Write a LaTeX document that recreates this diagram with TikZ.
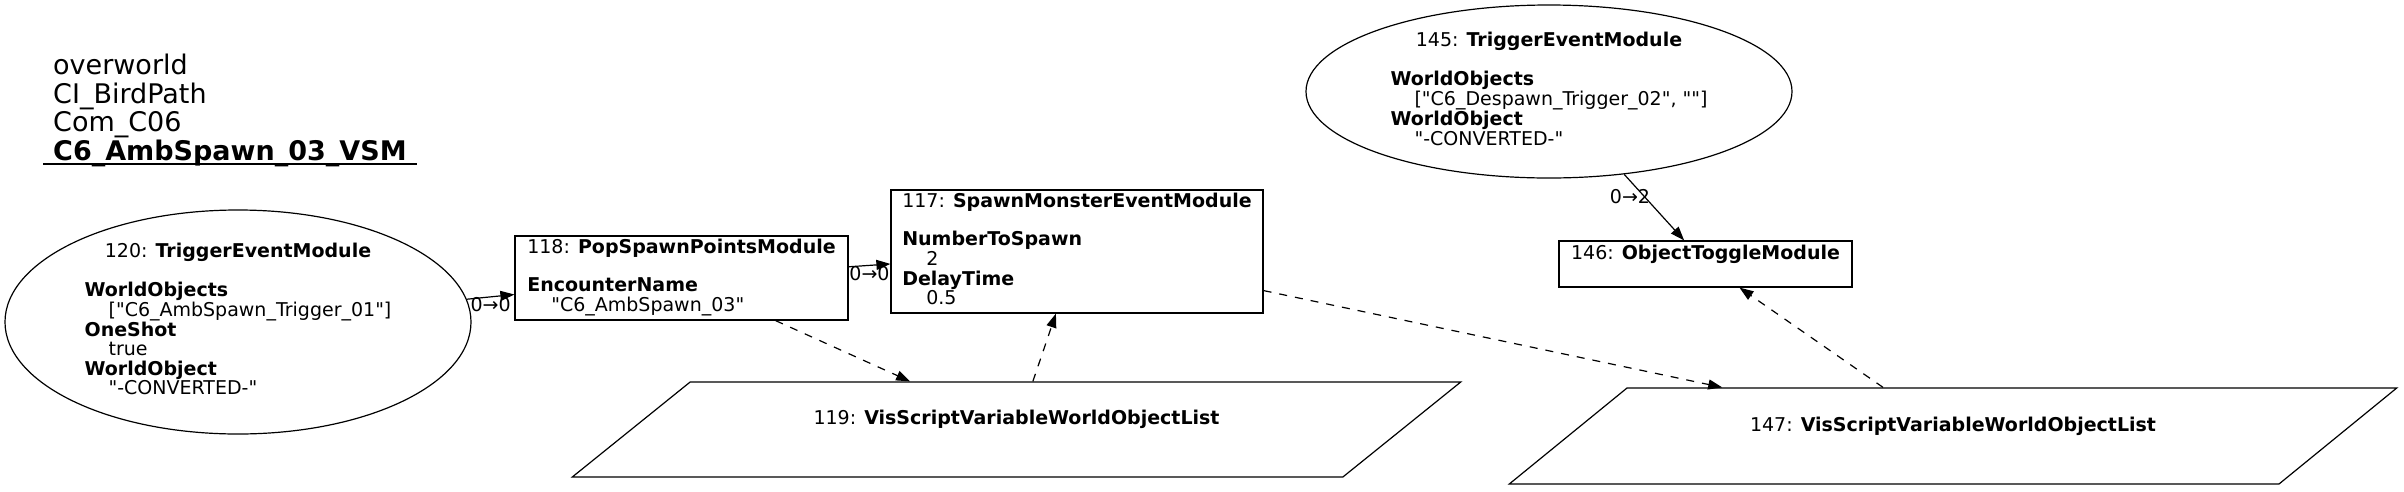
\documentclass[tikz,border=0pt]{standalone}
\usepackage{fontspec}
\setmainfont{DejaVu Sans}[Ligatures=TeXOff]
\usetikzlibrary{arrows.meta,shapes.geometric}

\newcommand{\ind}{\hspace*{24pt}}

\begin{document}
\begin{tikzpicture}[x=1pt,y=-1pt,
    every node/.style={font=\fontsize{19}{18.5}\selectfont, inner sep=0pt},
    modbox/.style={draw, rectangle, line width=1.2pt},
    trigger/.style={draw, ellipse, line width=1.2pt},
    varlist/.style={draw, trapezium, trapezium left angle=27.7, trapezium right angle=152.3,
        trapezium stretches=true, line width=1.2pt},
    link/.style={-{Triangle[length=14pt,width=10pt]}, line width=1.2pt},
    weak/.style={link, dash pattern=on 8pt off 8pt},
    port/.style={fill=none}]
    \useasboundingbox (0,0) rectangle (2404,491);
    % Title
    \node[anchor=north west, font=\fontsize{27}{27}\selectfont] (title) at (53,54)
        {\begin{tabular}{@{}l@{}}overworld\\ CI\_BirdPath\\ Com\_C06\\ \textbf{C6\_AmbSpawn\_03\_VSM}\end{tabular}};
    \draw[line width=1.2pt] (43,164) -- (417,164);
    % Modules
    \node[trigger, minimum width=466pt, minimum height=224pt] (n120) at (238,322)
        {\begin{tabular}{@{}l@{}}\multicolumn{1}{@{}c@{}}{120: \textbf{TriggerEventModule}}\\ \\
        \textbf{WorldObjects}\\ \ind["C6\_AmbSpawn\_Trigger\_01"]\\ \textbf{OneShot}\\ \ind true\\
        \textbf{WorldObject}\\ \ind"-CONVERTED-"\end{tabular}};
    \node[modbox, minimum width=333pt, minimum height=84pt] (n118) at (681.5,278)
        {\begin{tabular}{@{}l@{}}118: \textbf{PopSpawnPointsModule}\\ \\
        \textbf{EncounterName}\\ \ind"C6\_AmbSpawn\_03"\end{tabular}};
    \node[modbox, minimum width=372pt, minimum height=123pt] (n117) at (1077,251.5)
        {\begin{tabular}{@{}l@{}}117: \textbf{SpawnMonsterEventModule}\\ \\
        \textbf{NumberToSpawn}\\ \ind 2\\ \textbf{DelayTime}\\ \ind 0.5\end{tabular}};
    \node[varlist, minimum width=893pt, minimum height=95pt] (n119) at (1016.5,429.5)
        {\begin{tabular}{@{}c@{}}119: \textbf{VisScriptVariableWorldObjectList}\\ \mbox{}\end{tabular}};
    \node[trigger, minimum width=486pt, minimum height=173pt] (n145) at (1549,91.5)
        {\begin{tabular}{@{}l@{}}\multicolumn{1}{@{}c@{}}{145: \textbf{TriggerEventModule}}\\ \\
        \textbf{WorldObjects}\\ \ind["C6\_Despawn\_Trigger\_02", ""]\\
        \textbf{WorldObject}\\ \ind"-CONVERTED-"\end{tabular}};
    \node[modbox, minimum width=293pt, minimum height=46pt] (n146) at (1705.5,264)
        {\begin{tabular}{@{}c@{}}146: \textbf{ObjectToggleModule}\\ \mbox{}\end{tabular}};
    \node[varlist, minimum width=892pt, minimum height=96pt] (n147) at (1953,436)
        {\begin{tabular}{@{}c@{}}147: \textbf{VisScriptVariableWorldObjectList}\\ \mbox{}\end{tabular}};
    % Flow links
    \draw[link] (n120) -- node[port, midway, yshift=-8pt] {0→0} (n118);
    \draw[link] (n118) -- node[port, midway, yshift=-8.5pt] {0→0} (n117);
    \draw[link] (n145) -- node[port, pos=0.33, xshift=-14pt] {0→2} (n146);
    % Variable links
    \draw[weak] (n118) -- (n119);
    \draw[weak] (n119) -- (n117);
    \draw[weak] (n117) -- (n147);
    \draw[weak] (n147) -- (n146);
\end{tikzpicture}
\end{document}
